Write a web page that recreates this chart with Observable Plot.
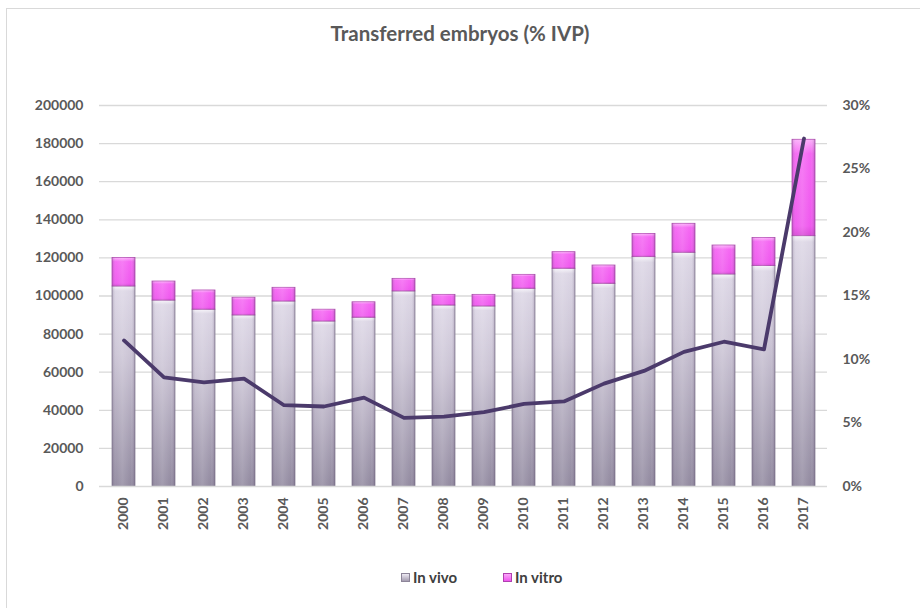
<!DOCTYPE html>
<html><head><meta charset="utf-8">
<script src="https://cdn.jsdelivr.net/npm/d3@7"></script>
<script src="https://cdn.jsdelivr.net/npm/@observablehq/plot@0.6"></script>
<style>
body{margin:0;background:#fff;font-family:Lato,"Open Sans",sans-serif;}
#wrap{position:relative;width:920px;height:608px;overflow:hidden;background:#fff;}
#frame{position:absolute;left:6px;top:8px;width:960px;height:660px;border:1px solid #d9d9d9;box-sizing:border-box;}
#title{position:absolute;left:0;width:920px;top:21px;text-align:center;font-weight:bold;font-size:20.5px;color:#595959;}
#chart{position:absolute;left:0;top:0;}
.leg{position:absolute;top:568px;font-weight:bold;font-size:15px;color:#404040;display:flex;align-items:center;}
.sw{width:9px;height:9px;margin-right:3px;box-sizing:border-box;}
</style></head>
<body>
<div id="wrap">
  <div id="frame"></div>
  <div id="chart"></div>
  <div id="title">Transferred embryos (% IVP)</div>
  <div class="leg" style="left:401px"><div class="sw" style="background:linear-gradient(#eeeaf3,#a49cb0);border:1px solid #8d8599"></div>In vivo</div>
  <div class="leg" style="left:503px"><div class="sw" style="background:linear-gradient(#fba8fa,#ef55ee);border:1px solid #b040b0"></div>In vitro</div>
</div>
<script>
const years = ["2000","2001","2002","2003","2004","2005","2006","2007","2008","2009","2010","2011","2012","2013","2014","2015","2016","2017"];
const inVivo = [105000, 97600, 92800, 89800, 97100, 86600, 88600, 102400, 95000, 94500, 103800, 114300, 106400, 120400, 122700, 111300, 115700, 131400];
const inVitro = [15000, 10000, 10100, 9300, 7200, 6200, 8100, 6600, 5600, 6100, 7300, 8700, 9600, 12200, 15200, 15200, 14800, 50600];
const ivpPct = [11.5, 8.6, 8.2, 8.5, 6.4, 6.3, 7.0, 5.4, 5.5, 5.85, 6.5, 6.7, 8.1, 9.1, 10.6, 11.4, 10.8, 27.4];
const leftTicks = [0, 20000, 40000, 60000, 80000, 100000, 120000, 140000, 160000, 180000, 200000];
const rightTicks = [0, 5, 10, 15, 20, 25, 30];
const yMax = 200000, pMax = 30;

const rows = years.map((yr, i) => ({year: yr, vivo: inVivo[i], vitro: inVitro[i], pct: ivpPct[i]}));

const chart = Plot.plot({
  width: 920, height: 608,
  marginLeft: 99, marginRight: 93, marginTop: 105, marginBottom: 122,
  style: {fontFamily: "Lato, 'Open Sans', sans-serif", fontSize: "14px", fontWeight: "bold", color: "#595959", background: "transparent"},
  x: {type: "band", domain: years, paddingInner: 0.43, paddingOuter: 0.215, axis: null},
  y: {domain: [0, yMax], axis: null},
  marks: [
    Plot.ruleY(leftTicks.slice(1), {stroke: "#d9d9d9", strokeWidth: 1.3}),
    Plot.barY(rows, {x: "year", y1: 0, y2: "vivo", fill: "url(#gVivo)", stroke: "#8d8599", strokeWidth: 0.8}),
    Plot.barY(rows, {x: "year", y1: "vivo", y2: d => d.vivo + d.vitro, fill: "url(#gVitro)", stroke: "#b24cb2", strokeWidth: 0.8}),
    Plot.barY(rows, {x: "year", y1: 0, y2: d => d.vivo + d.vitro, fill: "url(#gShade)"}),
    Plot.ruleY([0], {stroke: "#d9d9d9", strokeWidth: 1.6}),
    Plot.line(rows, {x: "year", y: d => d.pct / pMax * yMax, stroke: "#4b3a6b", strokeWidth: 3.8, strokeLinejoin: "round"}),
    Plot.axisY(leftTicks, {anchor: "left", tickSize: 0, tickPadding: 16, tickFormat: d => String(d), label: null, fill: "#595959"}),
    Plot.axisY(rightTicks.map(p => p / pMax * yMax), {anchor: "right", tickSize: 0, tickPadding: 15, tickFormat: d => Math.round(d / yMax * pMax) + "%", label: null, fill: "#595959"}),
    Plot.axisX({tickRotate: -90, tickSize: 0, tickPadding: 11, label: null, fill: "#595959"})
  ]
});

const defs = d3.select(chart).insert("defs", ":first-child");
function grad(id, horiz, stops) {
  const g = defs.append("linearGradient").attr("id", id)
    .attr("x1", 0).attr("y1", 0).attr("x2", horiz ? 1 : 0).attr("y2", horiz ? 0 : 1);
  stops.forEach(([o, c, a]) => g.append("stop").attr("offset", o).attr("stop-color", c).attr("stop-opacity", a == null ? 1 : a));
}
grad("gVivo", false, [[0, "#f7f5fa"], [0.025, "#dcd6e5"], [0.35, "#cbc4d5"], [1, "#928aa0"]]);
grad("gVitro", false, [[0, "#fbb0fa"], [0.15, "#f566f3"], [0.9, "#ef58ee"], [1, "#d84ad6"]]);
grad("gShade", true, [[0, "#3c2850", 0.24], [0.18, "#ffffff", 0.05], [0.45, "#ffffff", 0.15], [0.8, "#ffffff", 0.0], [1, "#3c2850", 0.27]]);

document.getElementById("chart").appendChild(chart);
</script>
</body></html>
